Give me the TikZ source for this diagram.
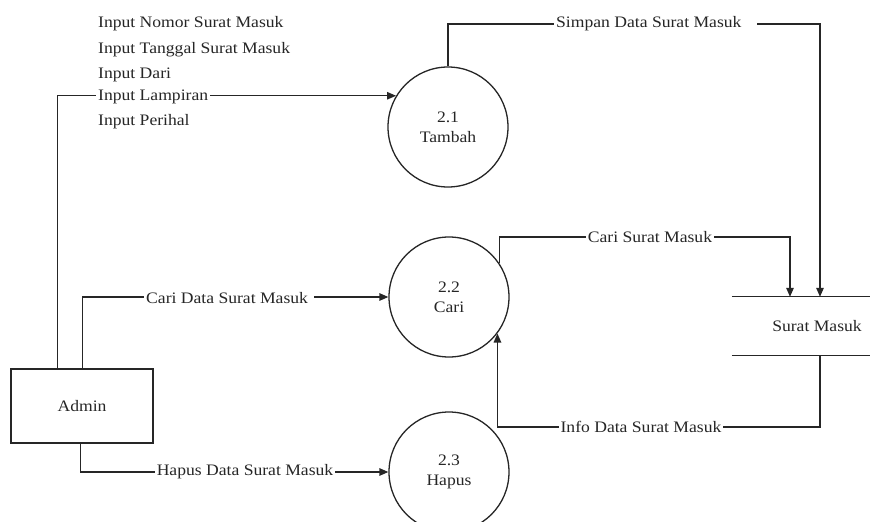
\documentclass[tikz,border=0pt]{standalone}
\usepackage{fontspec}
\setmainfont{Liberation Serif}[FakeStretch=1.1]
\usetikzlibrary{arrows.meta,calc}
\begin{document}
\begin{tikzpicture}[x=1pt,y=-1pt,
  every node/.style={font=\fontsize{16}{20}\selectfont, text=black!85},
  flow/.style={draw=black!85, line width=1.3pt},
  arr/.style={flow, -{Triangle[length=9pt,width=7.5pt]}},
  proc/.style={circle, draw=black!85, line width=1.3pt, minimum size=120pt,
               inner sep=0pt, align=center},
  ent/.style={rectangle, draw=black!85, line width=1.3pt,
              minimum width=142pt, minimum height=74pt},
  lbl/.style={fill=white, inner xsep=2pt, inner ysep=1pt}]

% canvas
\clip (0,0) rectangle (870,522);
\fill[white] (0,0) rectangle (870,522);

% external entity, processes and data store
\node[ent] (admin) at (82,406) {Admin};
\node[proc] (c21) at (448,127) {2.1\\Tambah};
\node[proc] (c22) at (449,297) {2.2\\Cari};
\node[proc] (c23) at (449,472) {2.3\\Hapus};
\node[minimum width=170pt, minimum height=58pt, inner sep=0pt] (store) at (817,326) {Surat Masuk};
\draw[flow] (store.north west) -- (store.north east);
\draw[flow] (store.south west) -- (store.south east);

% bend points
\coordinate (topbend) at (820,24);
\coordinate (cbend) at (790,237);
\coordinate (ibend) at (820,427);

% data flows
\draw[arr] ($(admin.north west)+(47,0)$) |- (c21.149);
\draw[arr] ($(admin.north west)+(72,0)$) |- (c22.west);
\draw[arr] ($(admin.south west)+(70,0)$) |- (c23.west);
\draw[arr] (c21.north) |- (topbend) -- (topbend |- store.north);
\draw[arr] (c22.34) |- (cbend) -- (cbend |- store.north);
\draw[arr] (ibend |- store.south) -- (ibend) -| (c22.-37);

% flow labels
\node[anchor=west, inner sep=0pt] (in1) at (98,24) {Input Nomor Surat Masuk};
\node[anchor=west, inner sep=0pt] (in2) at (98,50) {Input Tanggal Surat Masuk};
\node[anchor=west, inner sep=0pt] (in3) at (98,75) {Input Dari};
\node[lbl, anchor=west] (in4) at (96,97) {Input Lampiran};
\node[anchor=west, inner sep=0pt] (in5) at (98,122) {Input Perihal};
\node[lbl, anchor=west] (lsimpan) at (554,24) {Simpan Data Surat Masuk\hspace{14pt}\null};
\node[lbl] (lcari) at (650,237) {Cari Surat Masuk};
\node[lbl] (linfo) at (641,427) {Info Data Surat Masuk};
\node[lbl, anchor=west] (lcaridata) at (144,298) {Cari Data Surat Masuk\hspace{4pt}\null};
\node[lbl] (lhapus) at (245,472) {Hapus Data Surat Masuk};
\end{tikzpicture}
\end{document}
